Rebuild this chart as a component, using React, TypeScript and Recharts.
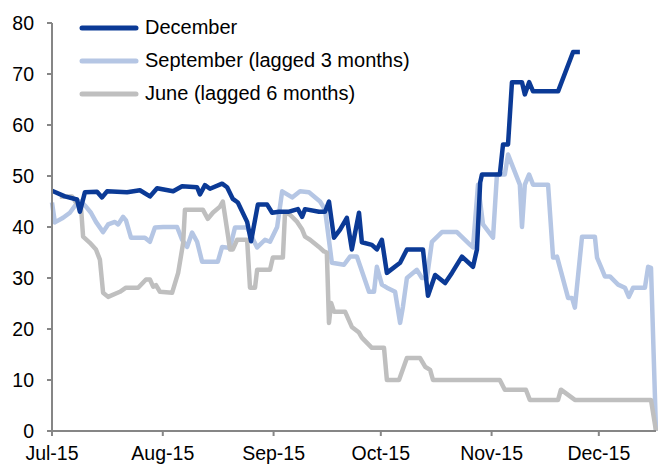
import { LineChart, Line, XAxis, YAxis, Legend } from 'recharts'

// x values are days counted from 1 Jul 2015
const monthTicks = [0, 31, 62, 92, 123, 153]
const monthLabels = ['Jul-15', 'Aug-15', 'Sep-15', 'Oct-15', 'Nov-15', 'Dec-15']
const valueTicks = [0, 10, 20, 30, 40, 50, 60, 70, 80]

const decemberDays = [
  0, 3.6, 7, 7.8, 9.2, 12.6, 14, 15.4, 21, 24.6, 27.4, 29.4, 33.9, 36.4, 40.6, 41.4, 42.8, 44.2,
  47.6, 49, 50.6, 52, 54.6, 55.7, 57.6, 60.2, 61.6, 63.5, 66.3, 68.8, 70, 70.8, 74.7, 76.4, 77.5,
  78.9, 80.6, 82.5, 83.9, 85.9, 86.7, 89.5, 90.9, 92.3, 93.7, 97.4, 99.3, 103.8, 105.2, 107.2, 110,
  111.9, 114.7, 117.8, 118.9, 119.8, 120.3, 125.3, 126.2, 127.6, 128.7, 131.5, 132.3, 133.5, 134.6,
  141.6, 145.8, 147.7,
]
const decemberValues = [
  47.1, 46, 45.4, 43, 46.8, 46.9, 45.8, 47, 46.8, 47.2, 46, 47.6, 47, 48, 47.8, 46.4, 48.2, 47.5,
  48.5, 47.8, 45.5, 44.8, 41, 37.2, 44.4, 44.4, 42.8, 43, 43, 43.5, 42, 43.5, 43, 43, 45,
  37.9, 39.5, 41.8, 35.6, 42.8, 37, 36.5, 35.6, 37.5, 31, 33, 35.6, 35.6, 26.5, 30.6, 29,
  31, 34.2, 32.2, 35.6, 48.7, 50.3, 50.3, 56.2, 56.2, 68.4, 68.4, 66, 68.4, 66.6,
  66.6, 74.3, 74.3,
]

const septemberDays = [
  0, 0.8, 3.1, 5, 7.3, 8.1, 9.5, 10.9, 12.3, 14.3, 15.7, 17.6, 18.5, 19.9, 20.7, 22.1, 26, 27.4,
  28.8, 31.1, 35, 36.4, 37.8, 39.2, 40.6, 42, 46.4, 47.6, 49.8, 51.2, 54.6, 57.4, 59.6, 61, 63,
  64.4, 67.2, 69.4, 71.9, 75, 76.4, 78.3, 81.7, 83.4, 85.3, 88.7, 90.1, 90.9, 92.3, 93.7, 96,
  97.4, 98.2, 99.3, 102.1, 103.5, 104.9, 106.3, 109.1, 113.3, 117, 117.8, 119.2, 120.6, 123.4,
  124.5, 126.7, 127.6, 130.9, 131.5, 132.3, 133.5, 134.6, 138.8, 140.2, 141.3, 144.4, 145.5, 146.3,
  148.3, 151.9, 152.5, 153.6, 154.7, 156.1, 158.4, 160.3, 161.4, 162.6, 165.9, 166.8, 167.6, 169,
]
const septemberValues = [
  44.8, 40.9, 41.8, 42.8, 45, 45, 44, 42.8, 41, 39, 40.5, 41, 40.5, 42, 41.3, 37.9, 37.9, 37.1,
  39.9, 40, 40, 37.5, 36.1, 38.9, 37.1, 33.2, 33.2, 36.1, 35.9, 39.9, 39.9, 36, 37.5, 37.1, 40,
  47, 45.8, 47, 46.8, 45, 43.4, 33, 32.6, 34.2, 34.2, 27.3, 27.3, 32.2, 28.7, 28.1, 27.3,
  21.2, 24.4, 30, 31.6, 30, 30, 37.1, 39, 39, 36.5, 36, 48.3, 40.5, 37.9,
  50.3, 50.3, 54.2, 48.3, 40, 48.3, 50.3, 48.3, 48.3, 34, 34.2, 26.1, 26.1, 24.2,
  38.1, 38.1, 34, 32.2, 30.3, 30.3, 28.7, 28.1, 26.3, 28.1, 28.1, 32.2, 32, 0,
]

const juneDays = [
  2.2, 5.6, 6.7, 8.1, 8.7, 10.6, 12.3, 13.4, 14.3, 15.7, 19, 20.7, 24.1, 26.3, 27.4, 28.3, 29.1,
  30.2, 33.6, 35.3, 36.7, 37.2, 42.2, 43.6, 45, 47, 47.8, 49.2, 49.8, 50.6, 51.8, 54.6, 55.4,
  56.8, 57.4, 61, 61.8, 64.6, 65.2, 66.6, 68.6, 70, 70.8, 72.2, 74.7, 76.1, 76.9, 77.5, 78.1,
  78.9, 82, 83.9, 85.9, 86.7, 89.5, 92.9, 93.7, 97.1, 99.3, 103, 104.4, 105.8, 106.6, 125.3,
  126.7, 132.6, 133.7, 141.6, 142.4, 146.3, 167.6, 169,
]
const juneValues = [
  46, 46, 44.8, 44, 38.1, 36.9, 35.6, 33.6, 27.1, 26.3, 27.3, 28.1, 28.1, 29.7, 29.7, 28.3, 28.6,
  27.3, 27.1, 31, 36.9, 43.4, 43.4, 41.6, 42.8, 44, 45, 38.5, 35.6, 35.6, 37.5, 37.5, 28.1,
  28.1, 31.6, 31.6, 34, 34, 42.8, 42.4, 41, 39.5, 38.1, 37.5, 36.1, 35.2, 35, 21.2, 25.1,
  23.4, 23.4, 20.4, 19.3, 18.3, 16.3, 16.3, 10, 10, 14.3, 14.3, 12.6, 12, 10, 10,
  8.1, 8.1, 6.1, 6.1, 8.1, 6.1, 6.1, 0,
]

const seriesNames = ['December', 'September (lagged 3 months)', 'June (lagged 6 months)']
const seriesColors = ['#0b3a96', '#b5c6e4', '#bfbfbf']

const toPoints = (days: number[], values: number[]) =>
  days.map((day, i) => ({ day, value: values[i] }))

const FONT = '"Liberation Sans", Arial, sans-serif'
const AXIS = '#868686'

function LegendBox() {
  return (
    <div style={{ fontFamily: FONT, fontSize: 20, color: '#000' }}>
      {seriesNames.map((name, i) => (
        <div key={name} style={{ display: 'flex', alignItems: 'center', height: 33 }}>
          <svg width={62} height={10} style={{ marginRight: 4 }}>
            <line x1={3} y1={5} x2={57} y2={5} stroke={seriesColors[i]} strokeWidth={5} strokeLinecap="round" />
          </svg>
          <span style={{ whiteSpace: 'nowrap' }}>{name}</span>
        </div>
      ))}
    </div>
  )
}

export default function App() {
  const december = toPoints(decemberDays, decemberValues)
  const september = toPoints(septemberDays, septemberValues)
  const june = toPoints(juneDays, juneValues)

  return (
    <div style={{ position: 'absolute', left: 0, top: 0, background: '#fff' }}>
      <LineChart width={658} height={464} margin={{ top: 23, right: 2, bottom: 0, left: 0 }}>
        <XAxis
          dataKey="day"
          type="number"
          domain={[0, 169]}
          ticks={monthTicks}
          interval={0}
          tickFormatter={(v: number) => monthLabels[monthTicks.indexOf(v)]}
          height={33}
          tickSize={5}
          tickMargin={10}
          axisLine={{ stroke: AXIS, strokeWidth: 2 }}
          tickLine={{ stroke: AXIS, strokeWidth: 2 }}
          tick={{ fill: '#000', fontSize: 19.5, fontFamily: FONT }}
        />
        <YAxis
          type="number"
          domain={[0, 80]}
          ticks={valueTicks}
          interval={0}
          width={52}
          tickSize={5}
          tickMargin={13}
          axisLine={{ stroke: AXIS, strokeWidth: 2 }}
          tickLine={{ stroke: AXIS, strokeWidth: 2 }}
          tick={{ fill: '#000', fontSize: 19.5, fontFamily: FONT }}
        />
        <Legend
          layout="vertical"
          align="center"
          verticalAlign="middle"
          content={() => <LegendBox />}
          wrapperStyle={{ left: 79, top: 11, width: 'auto', height: 'auto' }}
        />
        <Line data={september} dataKey="value" name={seriesNames[1]} type="linear" stroke={seriesColors[1]}
          strokeWidth={4.5} strokeLinejoin="round" dot={false} isAnimationActive={false} />
        <Line data={june} dataKey="value" name={seriesNames[2]} type="linear" stroke={seriesColors[2]}
          strokeWidth={4.5} strokeLinejoin="round" dot={false} isAnimationActive={false} />
        <Line data={december} dataKey="value" name={seriesNames[0]} type="linear" stroke={seriesColors[0]}
          strokeWidth={4.5} strokeLinejoin="round" dot={false} isAnimationActive={false} />
      </LineChart>
    </div>
  )
}
